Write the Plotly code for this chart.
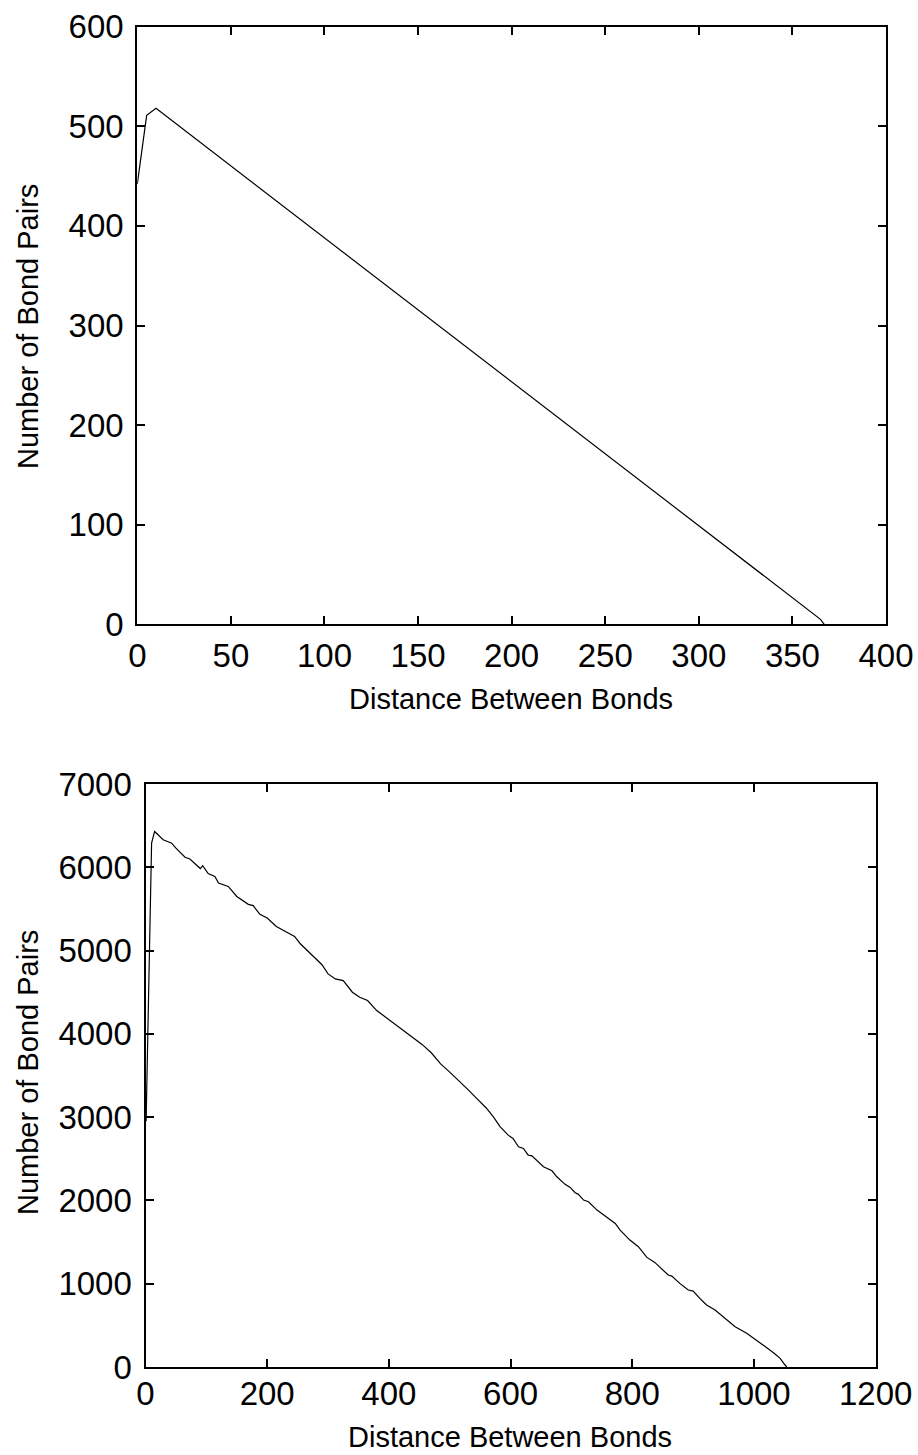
import plotly.graph_objects as go

# ---- data ----
top_distance = [0, 5, 10, 365, 367]
top_pairs = [442, 511, 518, 5, 0]

bottom_distance = [1, 10, 15, 29, 43, 50, 65, 73, 90, 94, 103, 114, 120, 136, 150, 169, 177, 188,
                   200, 215, 230, 245, 254, 266, 276, 290, 300, 312, 325, 340, 352, 365, 380, 395,
                   410, 425, 440, 455, 470, 485, 500, 515, 530, 545, 560, 572,
                   583, 596, 604, 613, 621, 629, 635, 654, 668, 676, 689, 698, 706, 711, 720, 728,
                   742, 752, 763, 772, 780, 796, 810, 824, 837, 848, 859, 865, 878, 892, 900, 911,
                   922, 936, 952, 969, 988, 1004, 1021, 1032, 1043, 1051, 1054]
bottom_pairs = [2950, 6290, 6430, 6330, 6290, 6230, 6120, 6100, 5985, 6020, 5925, 5890, 5810, 5770, 5650, 5555, 5540, 5435,
                5390, 5290, 5230, 5170, 5085, 5000, 4924, 4830, 4720, 4660, 4640, 4500, 4440, 4400, 4280, 4200,
                4120, 4030, 3950, 3870, 3770, 3640, 3540, 3440, 3330, 3220, 3110, 3000,
                2884, 2784, 2744, 2644, 2624, 2544, 2536, 2404, 2356, 2284, 2196, 2156, 2092, 2076, 2004, 1984,
                1884, 1832, 1772, 1724, 1644, 1524, 1444, 1316, 1256, 1184, 1104, 1092, 1004, 924, 912, 824,
                744, 684, 584, 484, 404, 324, 232, 172, 104, 24, 0]

top_xticks = [0, 50, 100, 150, 200, 250, 300, 350, 400]
top_yticks = [0, 100, 200, 300, 400, 500, 600]
bottom_xticks = [0, 200, 400, 600, 800, 1000, 1200]
bottom_yticks = [0, 1000, 2000, 3000, 4000, 5000, 6000, 7000]

x_title = "Distance Between Bonds"
y_title = "Number of Bond Pairs"

W, H = 918, 1455
FONT = "Liberation Sans, Arial, sans-serif"
TICK_SIZE = 33
TITLE_SIZE = 29

fig = go.Figure()
fig.add_trace(go.Scatter(x=top_distance, y=top_pairs, mode="lines",
                         line=dict(color="black", width=1.2), xaxis="x", yaxis="y", showlegend=False))
fig.add_trace(go.Scatter(x=bottom_distance, y=bottom_pairs, mode="lines",
                         line=dict(color="black", width=1.2), xaxis="x2", yaxis="y2", showlegend=False))

def ax(domain, rng, ticks, anchor, standoff):
    return dict(domain=domain, range=rng, tickvals=ticks, ticktext=[str(t) for t in ticks],
                anchor=anchor, showgrid=False, zeroline=False, showline=True, linecolor="black",
                linewidth=2.2, mirror="ticks", ticks="inside", ticklen=8, tickwidth=2,
                tickcolor="black", tickfont=dict(family=FONT, size=TICK_SIZE, color="black"),
                ticklabelstandoff=standoff, automargin=False)

fig.update_layout(
    width=W, height=H, margin=dict(l=0, r=0, t=0, b=0),
    paper_bgcolor="white", plot_bgcolor="white",
    xaxis=ax([137.3 / W, 886 / W], [0, 400], top_xticks, "y", 1),
    yaxis=ax([1 - 624.3 / H, 1 - 26.7 / H], [0, 600], top_yticks, "x", 5),
    xaxis2=ax([145.5 / W, 875.7 / W], [0, 1200], bottom_xticks, "y2", -4),
    yaxis2=ax([1 - 1367 / H, 1 - 784 / H], [0, 7000], bottom_yticks, "x2", 5),
)

for (xc, yc) in [(511 / W, 1 - 699 / H), (510 / W, 1 - 1437 / H)]:
    fig.add_annotation(text=x_title, x=xc, y=yc, xref="paper", yref="paper", showarrow=False,
                       xanchor="center", yanchor="middle",
                       font=dict(family=FONT, size=TITLE_SIZE, color="black"))
for yc in [1 - 327 / H, 1 - 1073 / H]:
    fig.add_annotation(text=y_title, x=28 / W, y=yc, xref="paper", yref="paper", showarrow=False,
                       xanchor="center", yanchor="middle", textangle=-90,
                       font=dict(family=FONT, size=TITLE_SIZE, color="black"))

fig.write_html("out.html")
